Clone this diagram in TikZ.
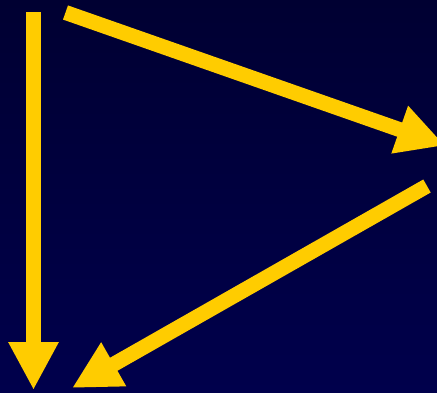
\documentclass[tikz,border=0pt]{standalone}
\usetikzlibrary{arrows.meta}
\definecolor{arrowyellow}{RGB}{255,204,0}
\definecolor{bgtop}{RGB}{0,0,50}
\definecolor{bgbot}{RGB}{0,0,76}
\begin{document}
\begin{tikzpicture}[x=1pt,y=-1pt,
  bigarrow/.style={draw=arrowyellow,line width=15pt,
    -{Triangle[length=48pt,width=47pt,fill=arrowyellow]}}]
\shade[top color=bgtop,bottom color=bgbot] (0,0) rectangle (437,392);
\useasboundingbox (0,0) rectangle (437,392);
\coordinate (a1s) at (33.5,12);
\coordinate (a1t) at (33.5,390);
\coordinate (a2s) at (65.5,12.5);
\coordinate (a2t) at (445,145.5);
\coordinate (a3s) at (427,186);
\coordinate (a3t) at (72,388);
\draw[bigarrow] (a1s) -- (a1t);
\draw[bigarrow] (a2s) -- (a2t);
\draw[bigarrow] (a3s) -- (a3t);
\end{tikzpicture}
\end{document}
